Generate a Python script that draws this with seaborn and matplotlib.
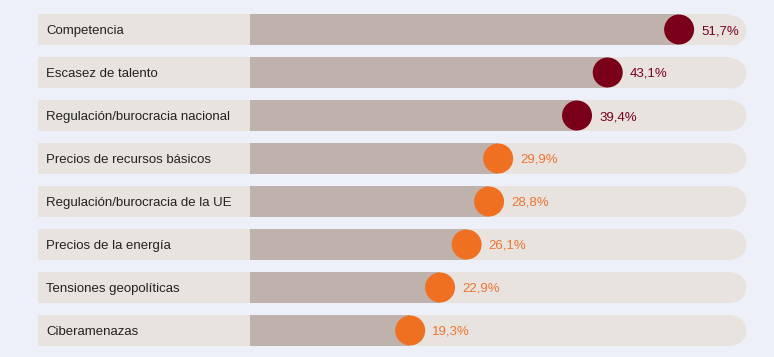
import matplotlib
matplotlib.use("Agg")
import matplotlib.pyplot as plt
import seaborn as sns
import numpy as np
import pandas as pd

# data
categorias = [
    "Competencia",
    "Escasez de talento",
    "Regulación/burocracia nacional",
    "Precios de recursos básicos",
    "Regulación/burocracia de la UE",
    "Precios de la energía",
    "Tensiones geopolíticas",
    "Ciberamenazas",
]
porcentajes = [51.7, 43.1, 39.4, 29.9, 28.8, 26.1, 22.9, 19.3]
grupo = ["top", "top", "top", "resto", "resto", "resto", "resto", "resto"]
etiquetas = ["51,7%", "43,1%", "39,4%", "29,9%", "28,8%", "26,1%", "22,9%", "19,3%"]

df = pd.DataFrame({"cat": categorias, "pct": porcentajes, "grupo": grupo})

bg = "#EEF0F9"
track = "#E8E3DF"
bar_col = "#BFB2AD"
dot_cols = {"top": "#7A0019", "resto": "#F07022"}
txt_cols = {"top": "#7A0019", "resto": "#EC7433"}

sns.set_theme(style="white")
plt.rcParams["font.family"] = ["Liberation Sans", "DejaVu Sans"]

fig = plt.figure(figsize=(7.74, 3.57), dpi=100, facecolor=bg)
ax = fig.add_axes([0, 0, 1, 1])
ax.set_facecolor(bg)

px = 8.3          # pixels per percent
x_left = -250 / px
x_right = (774 - 250) / px
track_start = (38 - 250) / px
track_end = 59.75
cap_r = 15 / px
h = 0.70
ypos = np.arange(len(categorias))

# background tracks (square left end, rounded right end)
ax.barh(ypos, track_end - cap_r - track_start, left=track_start, height=h,
        color=track, linewidth=0, zorder=1)
ax.scatter(np.full(len(ypos), track_end - cap_r), ypos, s=(30 * 0.72) ** 2,
           color=track, linewidth=0, zorder=1)

# value bars
sns.barplot(data=df, x="pct", y="cat", orient="h", color=bar_col, width=h,
            saturation=1, linewidth=0, ax=ax, zorder=2)

# dots
sns.scatterplot(data=df, x="pct", y="cat", hue="grupo", palette=dot_cols,
                s=(30 * 0.72) ** 2, linewidth=0, legend=False, ax=ax, zorder=3)

for i, (c, v, g, t) in enumerate(zip(categorias, porcentajes, grupo, etiquetas)):
    ax.text(track_start + 8 / px, i, c, va="center_baseline", ha="left",
            fontsize=9.5, color="#222222", zorder=4)
    ax.text(v + 22 / px, i, t, va="center_baseline", ha="left",
            fontsize=9.5, color=txt_cols[g], zorder=4)

ax.set_xlim(x_left, x_right)
ax.set_ylim((357 - 29.5) / 43, -29.5 / 43)
ax.set_axis_off()

fig.savefig("out.png", dpi=100, facecolor=bg)
